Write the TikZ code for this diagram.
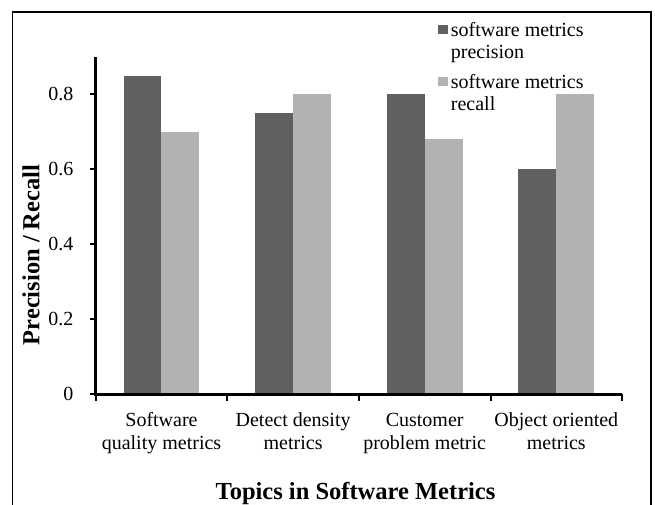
\documentclass[tikz,border=0pt]{standalone}
\usepackage{fontspec}
\setmainfont{Liberation Serif}
\definecolor{precgray}{RGB}{96,96,96}
\definecolor{recgray}{RGB}{178,178,178}
\begin{document}
\begin{tikzpicture}[x=1pt,y=-1pt,
  frame/.style={draw=black,line width=1.3pt},
  axisline/.style={draw=black,line width=2.6pt,line join=miter},
  tickline/.style={draw=black,line width=2pt},
  precbar/.style={fill=precgray},
  recbar/.style={fill=recgray},
  ticklabel/.style={font=\fontsize{20}{23}\selectfont,anchor=east,inner sep=0pt},
  catlabel/.style={font=\fontsize{20}{23}\selectfont,align=center,anchor=base,inner sep=0pt},
  legendtext/.style={font=\fontsize{20}{22}\selectfont,align=left,anchor=base west,inner sep=0pt},
  axistitle/.style={font=\bfseries\fontsize{24.5}{27}\selectfont,inner sep=0pt}]
\useasboundingbox (0,0) rectangle (655,504);
% outer frame, open past the lower edge of the page
\draw[frame] (12.5,530) -- (12.5,12) -- (651,12) -- (651,530);

% bars: value v sits at y = 394.3 - 375 v
\foreach \i/\p/\r in {0/0.85/0.70, 1/0.75/0.80, 2/0.80/0.68, 3/0.60/0.80} {
  \pgfmathsetmacro\xa{95.7+131.6*\i+27.8}
  \pgfmathsetmacro\xb{\xa+37.9}
  \pgfmathsetmacro\xc{\xb+37.9}
  \fill[precbar] (\xa,394.3) rectangle ({\xb},{394.3-375*\p});
  \fill[recbar] (\xb,394.3) rectangle ({\xc},{394.3-375*\r});
}

% axes
\coordinate (ytop) at (95.7,57);
\coordinate (origin) at (95.7,394.3);
\coordinate (xend) at (622.1,394.3);
\draw[axisline] (ytop) -- (origin) -- (xend);

% y ticks and labels
\foreach \v/\t in {0/0, 0.2/0.2, 0.4/0.4, 0.6/0.6, 0.8/0.8} {
  \draw[tickline] ({89.5},{394.3-375*\v}) -- ({95.7},{394.3-375*\v});
  \node[ticklabel] (yl\t) at ({73.5},{394.3-375*\v}) {\t};
}

% x ticks
\foreach \k in {0,1,2,3,4} {
  \draw[tickline] ({95.7+131.6*\k},394.3) -- ({95.7+131.6*\k},400.5);
}

% category labels (base anchor = baseline of the second line)
\node[catlabel] (c1) at (161.5,449.5) {Software\\quality metrics};
\node[catlabel] (c2) at (293.1,449.5) {Detect density\\metrics};
\node[catlabel] (c3) at (424.7,449.5) {Customer\\problem metric};
\node[catlabel] (c4) at (556.3,449.5) {Object oriented\\metrics};

% axis titles
\node[axistitle,anchor=base] (xt) at (355.5,499.5) {Topics in Software Metrics};
\node[axistitle,rotate=90] (yt) at (31,255) {Precision / Recall};

% legend
\fill[precgray] (437.5,24.5) rectangle (448.3,33.5);
\node[legendtext] (lg1) at (450.7,58) {software metrics\\precision};
\fill[recgray] (437.5,76.5) rectangle (448.3,85.5);
\node[legendtext] (lg2) at (450.7,110) {software metrics\\recall};
\end{tikzpicture}
\end{document}
